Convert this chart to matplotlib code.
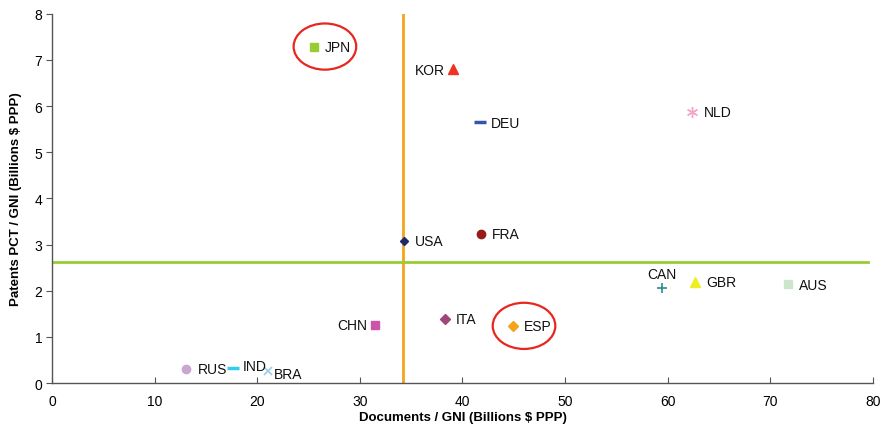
import matplotlib.pyplot as plt
from matplotlib.patches import Ellipse

plt.rcParams['font.family'] = ['Liberation Sans', 'DejaVu Sans']

# documents / GNI vs patents PCT / GNI, one point per country
countries = ['JPN', 'KOR', 'DEU', 'NLD', 'USA', 'FRA', 'CAN', 'GBR', 'AUS',
             'CHN', 'ITA', 'ESP', 'RUS', 'IND', 'BRA']
docs = [25.5, 39.1, 41.7, 62.4, 34.3, 41.8, 59.4, 62.7, 71.7,
        31.5, 38.3, 44.9, 13.1, 17.6, 21.1]
patents = [7.29, 6.81, 5.66, 5.88, 3.08, 3.23, 2.06, 2.19, 2.15,
           1.26, 1.39, 1.24, 0.30, 0.33, 0.26]
avg_docs = 34.2
avg_patents = 2.62
highlight = ['JPN', 'ESP']

markers = {'JPN': 's', 'KOR': '^', 'DEU': '_', 'NLD': (6, 2, 0), 'USA': 'D',
           'FRA': 'o', 'CAN': '+', 'GBR': '^', 'AUS': 's', 'CHN': 's',
           'ITA': 'D', 'ESP': 'D', 'RUS': 'o', 'IND': '_', 'BRA': 'x'}
colors = {'JPN': '#99CC33', 'KOR': '#EE3322', 'DEU': '#3355AA', 'NLD': '#F4A6C8',
          'USA': '#1F2A6B', 'FRA': '#991A1A', 'CAN': '#2A8C8C', 'GBR': '#EEEE22',
          'AUS': '#CCE6CC', 'CHN': '#CC55AA', 'ITA': '#A0467A', 'ESP': '#F7A21B',
          'RUS': '#C9A5D3', 'IND': '#33CCEE', 'BRA': '#99CCEE'}
sizes = {'JPN': 6, 'KOR': 7, 'DEU': 8, 'NLD': 8, 'USA': 4.5, 'FRA': 6,
         'CAN': 7, 'GBR': 7, 'AUS': 6, 'CHN': 6, 'ITA': 5, 'ESP': 5,
         'RUS': 6, 'IND': 8, 'BRA': 6}
# label placement: (dx, dy in points, ha, va)
label_pos = {'JPN': (8, 0, 'left', 'center'), 'KOR': (-6, -1, 'right', 'center'),
             'DEU': (8, -1, 'left', 'center'), 'NLD': (8, 0, 'left', 'center'),
             'USA': (8, 0, 'left', 'center'), 'FRA': (8, 0, 'left', 'center'),
             'CAN': (0, 5, 'center', 'bottom'), 'GBR': (8, 0, 'left', 'center'),
             'AUS': (8, -1, 'left', 'center'), 'CHN': (-6, 0, 'right', 'center'),
             'ITA': (8, 0, 'left', 'center'), 'ESP': (8, 0, 'left', 'center'),
             'RUS': (8, 0, 'left', 'center'), 'IND': (7, 1, 'left', 'center'),
             'BRA': (4, -2, 'left', 'center')}
thin = {'_': 2.5, '+': 1.2, 'x': 1.2}

fig = plt.figure(figsize=(8.8, 4.35), dpi=100)
ax = fig.add_axes([0.059, 0.117, 0.933, 0.849])

ax.axvline(avg_docs, color='#F7A21B', lw=2, zorder=1)
ax.axhline(avg_patents, xmin=0, xmax=0.994, color='#99CC33', lw=2, zorder=1)

for c, x, y in zip(countries, docs, patents):
    m = markers[c]
    mew = thin.get(m, 1) if isinstance(m, str) else 1
    ax.plot(x, y, marker=m, color=colors[c], ms=sizes[c], mew=mew,
            ls='none', zorder=3)
    dx, dy, ha, va = label_pos[c]
    ax.annotate(c, (x, y), xytext=(dx, dy), textcoords='offset points',
                ha=ha, va=va, fontsize=10, color='#111111', zorder=4)

# red rings around the highlighted countries
for c in highlight:
    i = countries.index(c)
    cx = docs[i] + 1.1
    el = Ellipse((cx, patents[i]), width=6.1, height=1.0, fill=False,
                 edgecolor='#E8261E', lw=1.6, zorder=5)
    ax.add_patch(el)

ax.set_xlim(0, 80)
ax.set_ylim(0, 8)
ax.set_xticks(range(0, 81, 10))
ax.set_yticks(range(0, 9))
ax.spines['top'].set_visible(False)
ax.spines['right'].set_visible(False)
for s in ('left', 'bottom'):
    ax.spines[s].set_color('#555555')
    ax.spines[s].set_linewidth(1)
ax.tick_params(axis='x', direction='in', length=4, labelsize=10, pad=8, color='#555555')
ax.tick_params(axis='y', direction='out', length=4, labelsize=10, pad=3, color='#555555')

ax.set_xlabel('Documents / GNI (Billions $ PPP)', fontsize=9.5, fontweight='bold', labelpad=2)
ax.set_ylabel('Patents PCT / GNI (Billions $ PPP)', fontsize=9.5, fontweight='bold', labelpad=9)

fig.savefig('out.png', dpi=100)
